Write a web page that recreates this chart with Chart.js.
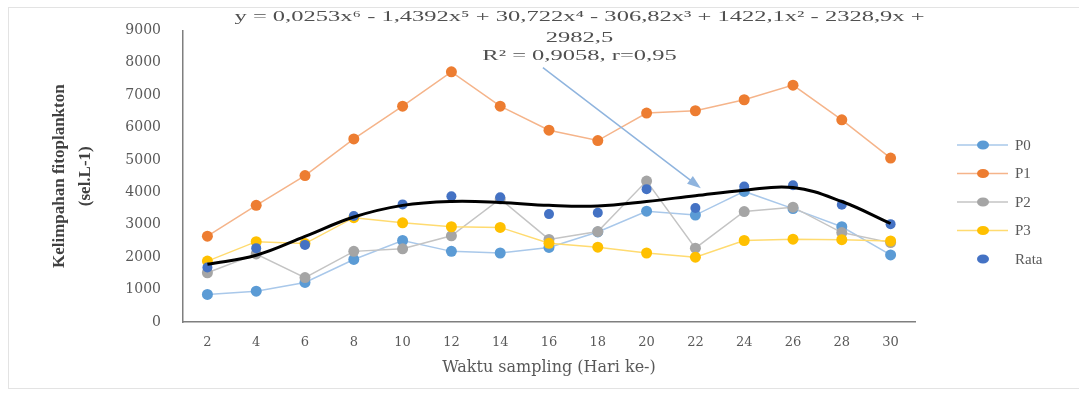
<!DOCTYPE html>
<html>
<head>
<meta charset="utf-8">
<script src="https://cdn.jsdelivr.net/npm/chart.js@4"></script>
<style>
  html, body { margin: 0; padding: 0; background: #fff; }
  #wrap { position: relative; width: 1079px; height: 397px; }
  #frame { position: absolute; left: 8px; top: 7px; right: -2px; bottom: 8px; border: 1px solid #e3e3e3; }
  canvas { position: absolute; left: 0; top: 0; }
</style>
</head>
<body>
<div id="wrap">
  <div id="frame"></div>
  <canvas id="chart" width="1079" height="397"></canvas>
</div>
<script>
// sampling days (Hari ke-)
const days = ["2", "4", "6", "8", "10", "12", "14", "16", "18", "20", "22", "24", "26", "28", "30"];

const p0 = [850, 950, 1220, 1930, 2515, 2180, 2130, 2300, 2780, 3420, 3300, 4030, 3500, 2940, 2070];
const p1 = [2650, 3600, 4520, 5650, 6660, 7720, 6660, 5920, 5600, 6450, 6520, 6860, 7310, 6240, 5060];
const p2 = [1520, 2100, 1370, 2180, 2260, 2660, 3800, 2550, 2790, 4350, 2280, 3410, 3545, 2760, 2450];
const p3 = [1880, 2480, 2420, 3220, 3060, 2940, 2920, 2430, 2310, 2130, 2000, 2515, 2555, 2540, 2500];
const rata = [1680, 2280, 2380, 3270, 3630, 3880, 3850, 3330, 3370, 4100, 3520, 4180, 4220, 3620, 3020];
// poly trend line
const trend = [1780, 2060, 2640, 3240, 3600, 3720, 3690, 3600, 3580, 3720, 3900, 4070, 4150, 3720, 3040];

const yTicks = [0, 1000, 2000, 3000, 4000, 5000, 6000, 7000, 8000, 9000];

const eqLines = [
  "y = 0,0253x\u2076 - 1,4392x\u2075 + 30,722x\u2074 - 306,82x\u00b3 + 1422,1x\u00b2 - 2328,9x +",
  "2982,5",
  "R\u00b2 = 0,9058, r=0,95",
];

const serif = "'Liberation Serif', 'Times New Roman', serif";
const textGrey = "#595959";

function series(label, data, line, point, order) {
  return {
    label: label,
    data: data,
    borderColor: line,
    backgroundColor: point,
    borderWidth: 1.5,
    pointBackgroundColor: point,
    pointBorderColor: point,
    pointBorderWidth: 0,
    pointRadius: 5.5,
    tension: 0,
    order: order,
  };
}

const datasets = [
  series("P0", p0, "#a9c8ea", "#5b9bd5", 5),
  series("P1", p1, "#f5b48a", "#ed7d31", 4),
  series("P2", p2, "#c4c4c4", "#a5a5a5", 3),
  series("P3", p3, "#ffdb70", "#ffc000", 2),
  {
    label: "Rata",
    data: rata,
    showLine: false,
    pointBackgroundColor: "#4472c4",
    pointBorderColor: "#4472c4",
    backgroundColor: "#4472c4",
    pointBorderWidth: 0,
    pointRadius: 5,
    order: 1,
  },
  {
    label: "trend",
    data: trend,
    borderColor: "#000000",
    borderWidth: 3,
    pointRadius: 0,
    tension: 0.4,
    order: 0,
    legendHidden: true,
  },
];

// legend on the right, Excel style (line + marker)
const sideLegend = {
  id: "sideLegend",
  afterDraw(chart) {
    const ctx = chart.ctx;
    const left = chart.chartArea.right + 42;
    let y = 145;
    ctx.save();
    chart.data.datasets.forEach((ds) => {
      if (ds.legendHidden) return;
      if (ds.showLine !== false) {
        ctx.strokeStyle = ds.borderColor;
        ctx.lineWidth = 1.5;
        ctx.beginPath();
        ctx.moveTo(left, y);
        ctx.lineTo(left + 51, y);
        ctx.stroke();
      }
      ctx.fillStyle = ds.pointBackgroundColor;
      ctx.beginPath();
      ctx.ellipse(left + 26, y, 6, 4.5, 0, 0, Math.PI * 2);
      ctx.fill();
      ctx.fillStyle = textGrey;
      ctx.font = "15px " + serif;
      ctx.textBaseline = "middle";
      ctx.fillText(ds.label, left + 58, y + 1);
      y += 28.5;
    });
    ctx.restore();
  },
};

// trendline label with its callout arrow
const trendLabel = {
  id: "trendLabel",
  afterDraw(chart) {
    const ctx = chart.ctx;
    const xs = chart.scales.x;
    const ys = chart.scales.y;
    const dayPx = (d) => xs.getPixelForValue((d - 2) / 2);

    ctx.save();
    // arrow
    const x1 = dayPx(15.75), y1 = ys.getPixelForValue(7850);
    const x2 = dayPx(22.1), y2 = ys.getPixelForValue(4200);
    ctx.strokeStyle = "#8fb4de";
    ctx.fillStyle = "#8fb4de";
    ctx.lineWidth = 1.5;
    ctx.beginPath();
    ctx.moveTo(x1, y1);
    ctx.lineTo(x2, y2);
    ctx.stroke();
    const a = Math.atan2(y2 - y1, x2 - x1);
    ctx.beginPath();
    ctx.moveTo(x2 + 3, y2 + 3 * Math.tan(a));
    ctx.lineTo(x2 - 11 * Math.cos(a - 0.45), y2 - 11 * Math.sin(a - 0.45));
    ctx.lineTo(x2 - 11 * Math.cos(a + 0.45), y2 - 11 * Math.sin(a + 0.45));
    ctx.closePath();
    ctx.fill();

    // equation text, stretched wide like the source
    ctx.font = "15px " + serif;
    ctx.fillStyle = "#505050";
    ctx.textBaseline = "middle";
    ctx.textAlign = "center";
    const sx = 690 / ctx.measureText(eqLines[0]).width;
    const cx = dayPx(17.25);
    const rows = [17, 38, 56];
    eqLines.forEach((t, i) => {
      ctx.save();
      ctx.translate(cx, rows[i]);
      ctx.scale(sx, 1);
      ctx.fillText(t, 0, 0);
      ctx.restore();
    });
    ctx.restore();
  },
};

const config = {
  type: "line",
  data: { labels: days, datasets: datasets },
  options: {
    responsive: false,
    animation: false,
    layout: { padding: { left: 20, top: 25, right: 164, bottom: 0 } },
    plugins: {
      legend: { display: false },
      tooltip: { enabled: false },
    },
    scales: {
      x: {
        offset: true,
        grid: { display: false, drawTicks: false },
        border: { display: true, color: "#7f7f7f", width: 1.5 },
        ticks: { color: textGrey, padding: 13, font: { family: "DejaVu Serif", size: 13 } },
        title: {
          display: true,
          text: "Waktu sampling (Hari ke-)",
          color: textGrey,
          font: { family: "DejaVu Serif", size: 16 },
          padding: { top: 0, bottom: 20 },
        },
        afterFit(scale) { scale.height = 75; },
      },
      y: {
        min: 0,
        max: 9000,
        afterBuildTicks(scale) { scale.ticks = yTicks.map((v) => ({ value: v })); },
        grid: { display: false, drawTicks: false },
        border: { display: true, color: "#7f7f7f", width: 1.5 },
        ticks: {
          color: textGrey,
          padding: 22,
          font: { family: "DejaVu Serif", size: 14 },
          callback: (v) => String(v),
        },
        title: {
          display: true,
          text: ["Kelimpahan fitoplankton", "(sel.L-1)"],
          color: "#404040",
          font: { family: serif, size: 17, weight: "bold", lineHeight: 1.5 },
          padding: { top: 27 },
        },
        afterFit(scale) { scale.width = 163; },
      },
    },
  },
  plugins: [sideLegend, trendLabel],
};

const chart = new Chart(document.getElementById("chart").getContext("2d"), config);
</script>
</body>
</html>
